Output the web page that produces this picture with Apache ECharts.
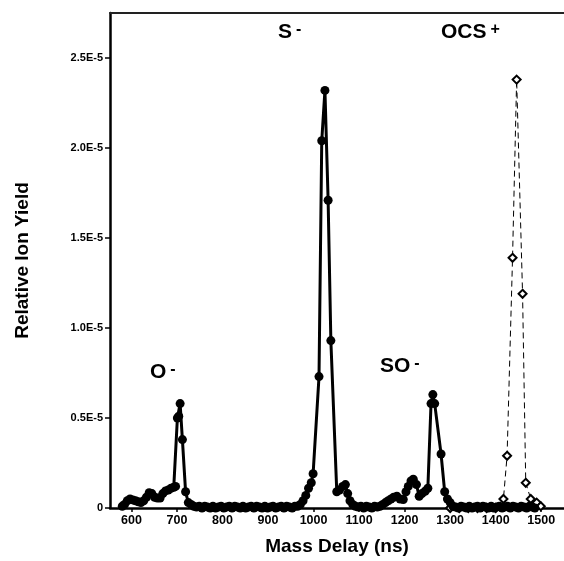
<!DOCTYPE html>
<html><head><meta charset="utf-8">
<script src="https://cdn.jsdelivr.net/npm/echarts@6/dist/echarts.min.js"></script>
<style>html,body{margin:0;padding:0;background:#fff}#c{width:564px;height:561px}</style>
</head><body><div id="c"></div>
<script>
// Negative ions (solid, filled circles). Yield in units of 1E-5.
const negDelay = [580,585,591,597,603,609,615,621,627,633,639,645,651,657,663,669,675,681,687,693,697,701,704,707,712,719,725,731,
  737,743,749,755,761,767,773,779,785,791,797,803,809,815,821,827,833,839,845,851,857,863,869,875,881,887,893,899,905,911,917,923,929,935,941,947,953,959,965,971,
  977,983,989,995,999,1012,1018,1025,1032,1038,1051,1057,1064,1070,1075,1080,1086,1092,
  1098,1104,1110,1116,1122,1128,1134,1140,1146,
  1152,1158,1164,1170,1176,1183,1190,1197,1203,1208,1214,1219,1226,1232,1238,1245,1251,1258,1262,1266,1280,1288,1294,1300,
  1306,1312,1318,1324,1330,1336,1342,1348,1354,1360,1366,1372,1378,1384,1390,1396,1402,1408,1414,1420,1426,1432,1438,1444,1450,1456,1462,1468,1474,1480,1486];
const negYield = [0.01,0.02,0.04,0.05,0.045,0.04,0.035,0.03,0.04,0.06,0.085,0.08,0.06,0.055,0.055,0.08,0.095,0.10,0.11,0.115,0.12,0.50,0.51,0.58,0.38,0.09,0.03,0.02,
  0.01,0.005,0.01,0,0.01,0.005,0,0.01,0,0.005,0.01,0,0.005,0.01,0,0.01,0.005,0,0.01,0,0.005,0.01,0,0.01,0.005,0,0.01,0,0.005,0.01,0,0.005,0.01,0,0.01,0.005,0,0.01,0.01,0.02,
  0.04,0.07,0.11,0.14,0.19,0.73,2.04,2.32,1.71,0.93,0.09,0.10,0.12,0.13,0.08,0.04,0.02,0.01,
  0.005,0.01,0,0.01,0.005,0,0.01,0.005,0.01,
  0.02,0.03,0.04,0.05,0.06,0.065,0.05,0.047,0.09,0.12,0.15,0.16,0.13,0.065,0.08,0.093,0.11,0.58,0.63,0.58,0.30,0.09,0.05,0.03,
  0.01,0.005,0,0.01,0.005,0,0.01,0,0.005,0.01,0,0.01,0.005,0,0.01,0,0.005,0.01,0,0.005,0.01,0,0.01,0.005,0,0.01,0.005,0,0.01,0.005,0];
// OCS+ (dashed, open markers)
const posDelay = [1300,1320,1340,1360,1380,1400,1417,1425,1437,1446,1459,1466,1477,1490,1499];
const posYield = [0,0,0,0,0,0,0.05,0.29,1.39,2.38,1.19,0.14,0.05,0.03,0.01];
const xTicks = [600,700,800,900,1000,1100,1200,1300,1400,1500];
const yTicks = [0,0.5,1.0,1.5,2.0,2.5];
const peakLabels = [
  {name:'O', sup:'-', x:150, y:362},
  {name:'S', sup:'-', x:278, y:22},
  {name:'SO', sup:'-', x:380, y:356},
  {name:'OCS', sup:'+', x:441, y:22}
];

const FONT = 'Liberation Sans, Arial, Helvetica, sans-serif';
const chart = echarts.init(document.getElementById('c'), null, {renderer:'canvas'});
const zip = (a,b)=>a.map((v,i)=>[v,b[i]]);
chart.setOption({
  animation:false,
  grid:{left:110, right:0, top:13, bottom:52.5, containLabel:false},
  xAxis:[{
    type:'value', min:553, max:1550, position:'bottom',
    axisLine:{show:true, onZero:false, lineStyle:{color:'#000', width:2.5}},
    axisTick:{show:true, inside:false, length:4, customValues:xTicks, lineStyle:{color:'#000', width:1.5}},
    axisLabel:{customValues:xTicks, color:'#000', fontWeight:'bold', fontSize:12.5, fontFamily:FONT, margin:6,
      formatter:v=>String(Math.round(v))},
    splitLine:{show:false},
    name:'Mass Delay (ns)', nameLocation:'middle', nameGap:29,
    nameTextStyle:{color:'#000', fontWeight:'bold', fontSize:19, fontFamily:FONT}
  },{
    type:'value', min:553, max:1550, position:'top',
    axisLine:{show:true, onZero:false, lineStyle:{color:'#222', width:2}},
    axisTick:{show:false}, axisLabel:{show:false}, splitLine:{show:false}
  }],
  yAxis:{
    type:'value', min:0, max:2.75,
    axisLine:{show:true, onZero:false, lineStyle:{color:'#000', width:2.5}},
    axisTick:{show:true, inside:false, length:5, customValues:yTicks, lineStyle:{color:'#000', width:1.5}},
    axisLabel:{customValues:yTicks, color:'#000', fontWeight:'bold', fontSize:11, fontFamily:FONT, margin:7,
      formatter:v=> v===0 ? '0' : v.toFixed(1)+'E-5'},
    splitLine:{show:false},
    name:'Relative Ion Yield', nameLocation:'middle', nameGap:78, nameRotate:90,
    nameTextStyle:{color:'#000', fontWeight:'bold', fontSize:19, fontFamily:FONT}
  },
  series:[{
    type:'line', data:zip(posDelay,posYield), z:2,
    lineStyle:{color:'#000', width:1, type:[6,4]},
    symbol:'diamond', symbolSize:8, showSymbol:true,
    itemStyle:{color:'#fff', borderColor:'#000', borderWidth:2}
  },{
    type:'line', data:zip(negDelay,negYield), z:3,
    lineStyle:{color:'#000', width:3},
    symbol:'circle', symbolSize:9, showSymbol:true,
    itemStyle:{color:'#000'}
  }],
  graphic: peakLabels.map(p=>({
    type:'text', left:p.x, top:p.y,
    style:{
      text:'{m|'+p.name+'}{s|'+p.sup+'}',
      rich:{
        m:{fontSize:21, fontWeight:'bold', fontFamily:FONT, fill:'#000'},
        s:{fontSize:16, fontWeight:'bold', fontFamily:FONT, fill:'#000', verticalAlign:'top', padding:[0,0,0,4]}
      }
    }
  }))
});
</script></body></html>
